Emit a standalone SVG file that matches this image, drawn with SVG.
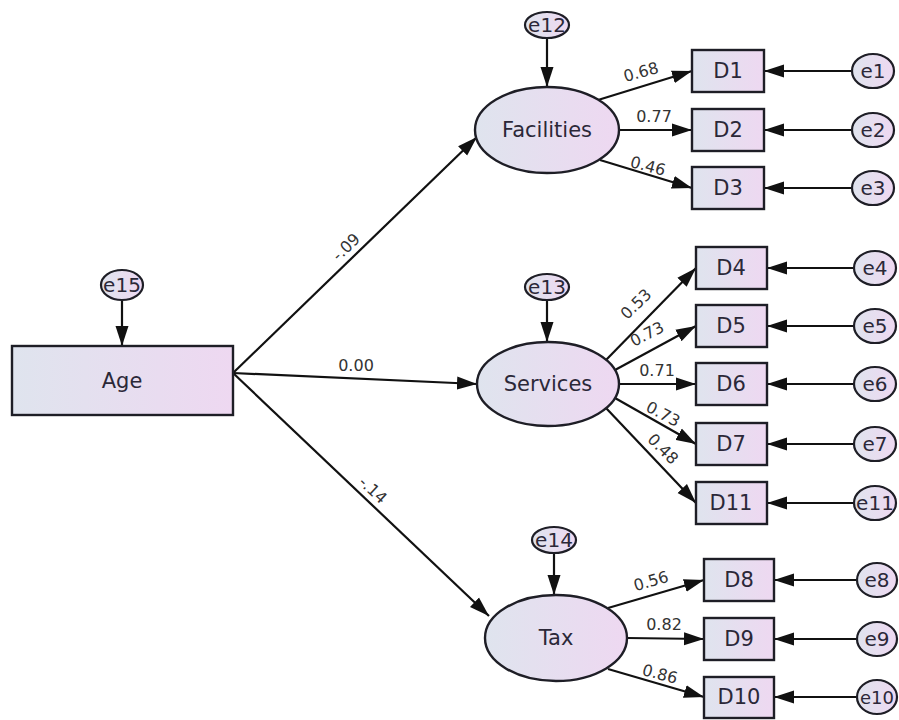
<svg xmlns="http://www.w3.org/2000/svg" width="899" height="720" viewBox="0 0 899 720">
<defs>
<linearGradient id="fillg" x1="0" y1="0" x2="1" y2="0">
<stop offset="0" stop-color="#dfe4ee"/>
<stop offset="1" stop-color="#eed8f1"/>
</linearGradient>
<marker id="arr" markerUnits="userSpaceOnUse" markerWidth="22" markerHeight="14" refX="20" refY="7" orient="auto">
<path d="M0,0.5 L20,7 L0,13.5 z" fill="#111"/>
</marker>
</defs>
<style>
.box{fill:url(#fillg);stroke:#1e1e26;stroke-width:2.4}
.lat{fill:url(#fillg);stroke:#1e1e26;stroke-width:2.4}
.err{fill:url(#fillg);stroke:#1e1e26;stroke-width:2.2}
.lbl{font-family:"DejaVu Sans",Verdana,sans-serif;font-size:21px;fill:#2b2838;text-anchor:middle;dominant-baseline:central}
.elbl{font-family:"DejaVu Sans",Verdana,sans-serif;font-size:20px;fill:#2b2838;text-anchor:middle;dominant-baseline:central}
.wt{font-family:"DejaVu Sans",Verdana,sans-serif;font-size:16px;fill:#333;text-anchor:middle;dominant-baseline:central}
.cn{stroke:#111;stroke-width:2.2;fill:none;marker-end:url(#arr)}
</style>
<rect width="899" height="720" fill="#fff"/>
<g id="connectors">
<line class="cn" x1="122" y1="300" x2="122" y2="346"/>
<line class="cn" x1="547" y1="38" x2="547" y2="87"/>
<line class="cn" x1="547" y1="300" x2="547" y2="342"/>
<line class="cn" x1="554" y1="553" x2="554" y2="595"/>
<line class="cn" x1="233" y1="373" x2="477" y2="137"/>
<line class="cn" x1="233" y1="373" x2="477" y2="384"/>
<line class="cn" x1="233" y1="373" x2="489" y2="616"/>
<line class="cn" x1="598" y1="100" x2="692" y2="71"/>
<line class="cn" x1="619" y1="130" x2="692" y2="130"/>
<line class="cn" x1="600" y1="160" x2="692" y2="188"/>
<line class="cn" x1="606" y1="360" x2="696" y2="268"/>
<line class="cn" x1="615" y1="370" x2="696" y2="326"/>
<line class="cn" x1="619" y1="384" x2="696" y2="384"/>
<line class="cn" x1="615" y1="398" x2="696" y2="444"/>
<line class="cn" x1="606" y1="408" x2="696" y2="503"/>
<line class="cn" x1="608" y1="608" x2="704" y2="580"/>
<line class="cn" x1="627" y1="638" x2="704" y2="639"/>
<line class="cn" x1="608" y1="669" x2="704" y2="697"/>
<line class="cn" x1="852" y1="71" x2="764" y2="71"/>
<line class="cn" x1="852" y1="130" x2="764" y2="130"/>
<line class="cn" x1="852" y1="188" x2="764" y2="188"/>
<line class="cn" x1="854" y1="268" x2="767" y2="268"/>
<line class="cn" x1="854" y1="326" x2="767" y2="326"/>
<line class="cn" x1="854" y1="384" x2="767" y2="384"/>
<line class="cn" x1="854" y1="444" x2="767" y2="444"/>
<line class="cn" x1="854" y1="503" x2="767" y2="503"/>
<line class="cn" x1="858" y1="580" x2="774" y2="580"/>
<line class="cn" x1="858" y1="639" x2="774" y2="639"/>
<line class="cn" x1="858" y1="697" x2="774" y2="697"/>
<text class="wt" transform="translate(346,247) rotate(-44)">-.09</text>
<text class="wt" x="356" y="365">0.00</text>
<text class="wt" transform="translate(373,490) rotate(43)">-.14</text>
<text class="wt" transform="translate(641,72) rotate(-15)">0.68</text>
<text class="wt" x="654" y="116">0.77</text>
<text class="wt" transform="translate(648,166) rotate(15)">0.46</text>
<text class="wt" transform="translate(636,304) rotate(-44)">0.53</text>
<text class="wt" transform="translate(647,334) rotate(-27)">0.73</text>
<text class="wt" x="657" y="370">0.71</text>
<text class="wt" transform="translate(663,414) rotate(28)">0.73</text>
<text class="wt" transform="translate(663,449) rotate(45)">0.48</text>
<text class="wt" transform="translate(651,581) rotate(-16)">0.56</text>
<text class="wt" x="664" y="624">0.82</text>
<text class="wt" transform="translate(660,674) rotate(15)">0.86</text>
</g>
<g id="Age"><rect class="box" x="12" y="346" width="221" height="69"/><text class="lbl" x="122" y="381">Age</text></g>
<g id="e15"><ellipse class="err" cx="122" cy="285" rx="21" ry="15"/><text class="elbl" x="122" y="285">e15</text></g>
<g id="Facilities"><ellipse class="lat" cx="547" cy="130" rx="72" ry="43"/><text class="lbl" x="547" y="130">Facilities</text></g>
<g id="e12"><ellipse class="err" cx="547" cy="25" rx="22" ry="13"/><text class="elbl" x="547" y="25">e12</text></g>
<g id="Services"><ellipse class="lat" cx="548" cy="384" rx="71" ry="42"/><text class="lbl" x="548" y="384">Services</text></g>
<g id="e13"><ellipse class="err" cx="547" cy="287" rx="22" ry="13"/><text class="elbl" x="547" y="287">e13</text></g>
<g id="Tax"><ellipse class="lat" cx="556" cy="638" rx="71" ry="43"/><text class="lbl" x="556" y="638">Tax</text></g>
<g id="e14"><ellipse class="err" cx="554" cy="540" rx="22" ry="13"/><text class="elbl" x="554" y="540">e14</text></g>
<g id="D1"><rect class="box" x="692" y="50" width="72" height="42"/><text class="lbl" x="728" y="71">D1</text></g>
<g id="D2"><rect class="box" x="692" y="109" width="72" height="42"/><text class="lbl" x="728" y="130">D2</text></g>
<g id="D3"><rect class="box" x="692" y="167" width="72" height="42"/><text class="lbl" x="728" y="188">D3</text></g>
<g id="D4"><rect class="box" x="696" y="247" width="71" height="42"/><text class="lbl" x="731" y="268">D4</text></g>
<g id="D5"><rect class="box" x="696" y="305" width="71" height="42"/><text class="lbl" x="731" y="326">D5</text></g>
<g id="D6"><rect class="box" x="696" y="363" width="71" height="42"/><text class="lbl" x="731" y="384">D6</text></g>
<g id="D7"><rect class="box" x="696" y="423" width="71" height="42"/><text class="lbl" x="731" y="444">D7</text></g>
<g id="D11"><rect class="box" x="696" y="482" width="71" height="42"/><text class="lbl" x="731" y="503">D11</text></g>
<g id="D8"><rect class="box" x="704" y="559" width="70" height="42"/><text class="lbl" x="739" y="580">D8</text></g>
<g id="D9"><rect class="box" x="704" y="618" width="70" height="42"/><text class="lbl" x="739" y="639">D9</text></g>
<g id="D10"><rect class="box" x="704" y="677" width="70" height="41"/><text class="lbl" x="739" y="697">D10</text></g>
<g id="e1"><ellipse class="err" cx="873" cy="71" rx="21" ry="17"/><text class="elbl" x="873" y="71">e1</text></g>
<g id="e2"><ellipse class="err" cx="873" cy="130" rx="21" ry="17"/><text class="elbl" x="873" y="130">e2</text></g>
<g id="e3"><ellipse class="err" cx="873" cy="188" rx="21" ry="17"/><text class="elbl" x="873" y="188">e3</text></g>
<g id="e4"><ellipse class="err" cx="875" cy="268" rx="21" ry="17"/><text class="elbl" x="875" y="268">e4</text></g>
<g id="e5"><ellipse class="err" cx="875" cy="326" rx="21" ry="17"/><text class="elbl" x="875" y="326">e5</text></g>
<g id="e6"><ellipse class="err" cx="875" cy="384" rx="21" ry="17"/><text class="elbl" x="875" y="384">e6</text></g>
<g id="e7"><ellipse class="err" cx="875" cy="444" rx="21" ry="17"/><text class="elbl" x="875" y="444">e7</text></g>
<g id="e11"><ellipse class="err" cx="875" cy="503" rx="21" ry="17"/><text class="elbl" x="875" y="503">e11</text></g>
<g id="e8"><ellipse class="err" cx="877" cy="580" rx="20" ry="17"/><text class="elbl" x="877" y="580">e8</text></g>
<g id="e9"><ellipse class="err" cx="877" cy="639" rx="20" ry="17"/><text class="elbl" x="877" y="639">e9</text></g>
<g id="e10"><ellipse class="err" cx="877" cy="697" rx="20" ry="17"/><text class="elbl" x="877" y="697" style="font-size:18px">e10</text></g>
</svg>
